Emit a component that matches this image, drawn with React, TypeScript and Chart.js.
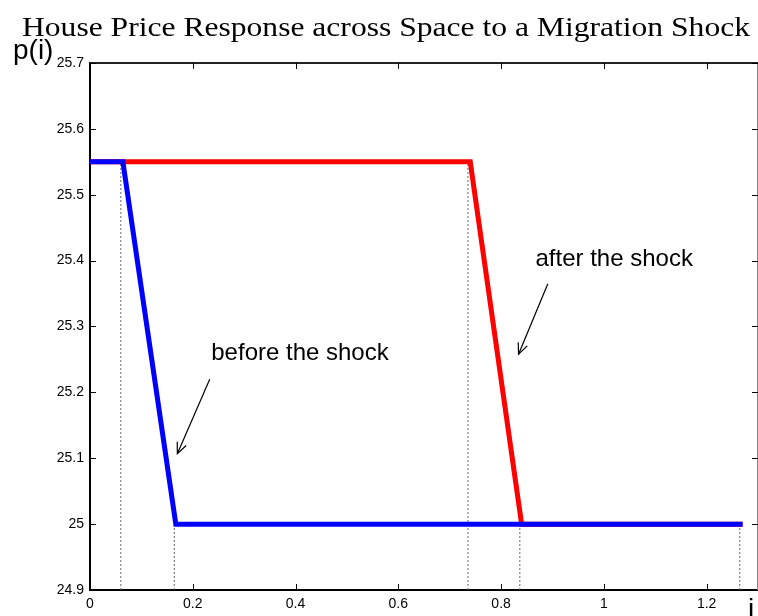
import React, { useEffect, useRef } from "react";
import { Chart, registerables } from "chart.js";

Chart.register(...registerables);

// ---- data ----
const titleText = "House Price Response across Space to a Migration Shock";
const yLabel = "p(i)";
const xLabel = "i";

const xTicks = [0, 0.2, 0.4, 0.6, 0.8, 1, 1.2];
const xTickLabels = ["0", "0.2", "0.4", "0.6", "0.8", "1", "1.2"];
const yTicks = [24.9, 25, 25.1, 25.2, 25.3, 25.4, 25.5, 25.6, 25.7];
const yTickLabels = ["24.9", "25", "25.1", "25.2", "25.3", "25.4", "25.5", "25.6", "25.7"];
const xMin = 0;
const xMax = 1.3;
const yMin = 24.9;
const yMax = 25.7;

const beforeX = [0, 0.064, 0.167, 1.27];
const beforeY = [25.55, 25.55, 25.0, 25.0];
const afterX = [0, 0.74, 0.84, 1.27];
const afterY = [25.55, 25.55, 25.0, 25.0];

// dotted guide lines: x position and top value (drawn from the bottom of the axis)
const guideX = [0.06, 0.164, 0.7355, 0.8365, 1.2645];
const guideTop = [25.55, 25.0, 25.55, 25.0, 25.0];

// annotations (data coordinates)
const noteText = ["before the shock", "after the shock"];
const noteX = [0.236, 0.867];
const noteY = [25.249, 25.392];
const arrowFromX = [0.233, 0.891];
const arrowFromY = [25.22, 25.365];
const arrowToX = [0.17, 0.834];
const arrowToY = [25.107, 25.258];

const pts = (xs: number[], ys: number[]) => xs.map((x, i) => ({ x, y: ys[i] }));

const decorPlugin = {
  id: "decor",
  afterDraw(chart: any) {
    const { ctx, chartArea, scales } = chart;
    const xs = scales.x;
    const ys = scales.y;
    const { left, right, top, bottom } = chartArea;
    ctx.save();
    // top & right border
    ctx.strokeStyle = "#222";
    ctx.lineWidth = 2;
    ctx.beginPath();
    ctx.moveTo(left, top);
    ctx.lineTo(right, top);
    ctx.stroke();
    ctx.strokeStyle = "#888";
    ctx.beginPath();
    ctx.moveTo(right, top);
    ctx.lineTo(right, bottom);
    ctx.stroke();
    // inward ticks
    ctx.strokeStyle = "#000";
    ctx.lineWidth = 1;
    const tl = 6;
    xTicks.forEach((v) => {
      const px = Math.round(xs.getPixelForValue(v)) + 0.5;
      ctx.beginPath();
      ctx.moveTo(px, bottom);
      ctx.lineTo(px, bottom - tl);
      ctx.moveTo(px, top);
      ctx.lineTo(px, top + tl);
      ctx.stroke();
    });
    yTicks.forEach((v) => {
      const py = Math.round(ys.getPixelForValue(v)) + 0.5;
      ctx.beginPath();
      ctx.moveTo(left, py);
      ctx.lineTo(left + tl, py);
      ctx.moveTo(right, py);
      ctx.lineTo(right - tl, py);
      ctx.stroke();
    });
    // title
    ctx.fillStyle = "#000";
    ctx.textBaseline = "alphabetic";
    ctx.textAlign = "center";
    ctx.font = "28px 'Liberation Serif'";
    const w = ctx.measureText(titleText).width;
    const targetW = 728;
    ctx.save();
    ctx.translate(386, 36);
    ctx.scale(targetW / w, 1);
    ctx.fillText(titleText, 0, 0);
    ctx.restore();
    // axis labels
    ctx.textAlign = "left";
    ctx.font = "28px 'Liberation Sans'";
    ctx.fillText(yLabel, 13, 59);
    ctx.fillText(xLabel, 748, 618);
    // annotations
    ctx.font = "24px 'Liberation Sans'";
    noteText.forEach((t, i) => {
      ctx.fillText(t, xs.getPixelForValue(noteX[i]), ys.getPixelForValue(noteY[i]));
    });
    // arrows
    ctx.strokeStyle = "#000";
    ctx.lineWidth = 1.2;
    noteText.forEach((_, i) => {
      const x1 = xs.getPixelForValue(arrowFromX[i]);
      const y1 = ys.getPixelForValue(arrowFromY[i]);
      const x2 = xs.getPixelForValue(arrowToX[i]);
      const y2 = ys.getPixelForValue(arrowToY[i]);
      ctx.beginPath();
      ctx.moveTo(x1, y1);
      ctx.lineTo(x2, y2);
      ctx.stroke();
      const ang = Math.atan2(y2 - y1, x2 - x1);
      const hl = 12;
      const spread = 0.42;
      ctx.beginPath();
      ctx.moveTo(x2 - hl * Math.cos(ang - spread), y2 - hl * Math.sin(ang - spread));
      ctx.lineTo(x2, y2);
      ctx.lineTo(x2 - hl * Math.cos(ang + spread), y2 - hl * Math.sin(ang + spread));
      ctx.stroke();
    });
    ctx.restore();
  },
};

export default function App() {
  const ref = useRef<HTMLCanvasElement | null>(null);
  useEffect(() => {
    if (!ref.current) return;
    const tickFont = { family: "'Liberation Sans'", size: 14 };
    const guideSets = guideX.map((gx, i) => ({
      label: "guide" + i,
      data: [
        { x: gx, y: yMin },
        { x: gx, y: guideTop[i] },
      ],
      borderColor: "#666",
      borderWidth: 1,
      borderDash: [2, 2],
      pointRadius: 0,
      order: 3,
    }));
    const chart = new Chart(ref.current, {
      type: "line",
      data: {
        datasets: [
          {
            label: "before the shock",
            data: pts(beforeX, beforeY),
            borderColor: "#0000ff",
            borderWidth: 5,
            pointRadius: 0,
            tension: 0,
            order: 0,
          },
          {
            label: "after the shock",
            data: pts(afterX, afterY),
            borderColor: "#ff0000",
            borderWidth: 5,
            pointRadius: 0,
            tension: 0,
            order: 1,
          },
          ...guideSets,
        ],
      },
      options: {
        responsive: false,
        animation: false,
        devicePixelRatio: 1,
        layout: { padding: { top: 63, right: 0, left: 0, bottom: 0 } },
        plugins: { legend: { display: false }, tooltip: { enabled: false }, title: { display: false } },
        scales: {
          x: {
            type: "linear",
            min: xMin,
            max: xMax,
            afterBuildTicks: (s: any) => {
              s.ticks = xTicks.map((v) => ({ value: v }));
            },
            afterFit: (s: any) => {
              s.height = 26;
            },
            ticks: {
              font: tickFont,
              color: "#000",
              padding: 6,
              maxRotation: 0,
              autoSkip: false,
              callback: (v: any) => xTickLabels[xTicks.findIndex((t) => Math.abs(t - v) < 1e-9)] ?? "",
            },
            grid: { display: false, drawTicks: false },
            border: { display: true, color: "#000", width: 2 },
          },
          y: {
            type: "linear",
            min: yMin,
            max: yMax,
            afterBuildTicks: (s: any) => {
              s.ticks = yTicks.map((v) => ({ value: v }));
            },
            afterFit: (s: any) => {
              s.width = 90;
            },
            ticks: {
              font: tickFont,
              color: "#000",
              padding: 6,
              autoSkip: false,
              callback: (v: any) => yTickLabels[yTicks.findIndex((t) => Math.abs(t - v) < 1e-9)] ?? "",
            },
            grid: { display: false, drawTicks: false },
            border: { display: true, color: "#000", width: 2 },
          },
        },
      },
      plugins: [decorPlugin],
    });
    return () => chart.destroy();
  }, []);
  return (
    <div style={{ position: "absolute", left: 0, top: 0, width: 758, height: 616, background: "#fff" }}>
      <canvas ref={ref} width={758} height={616} style={{ display: "block" }} />
    </div>
  );
}
